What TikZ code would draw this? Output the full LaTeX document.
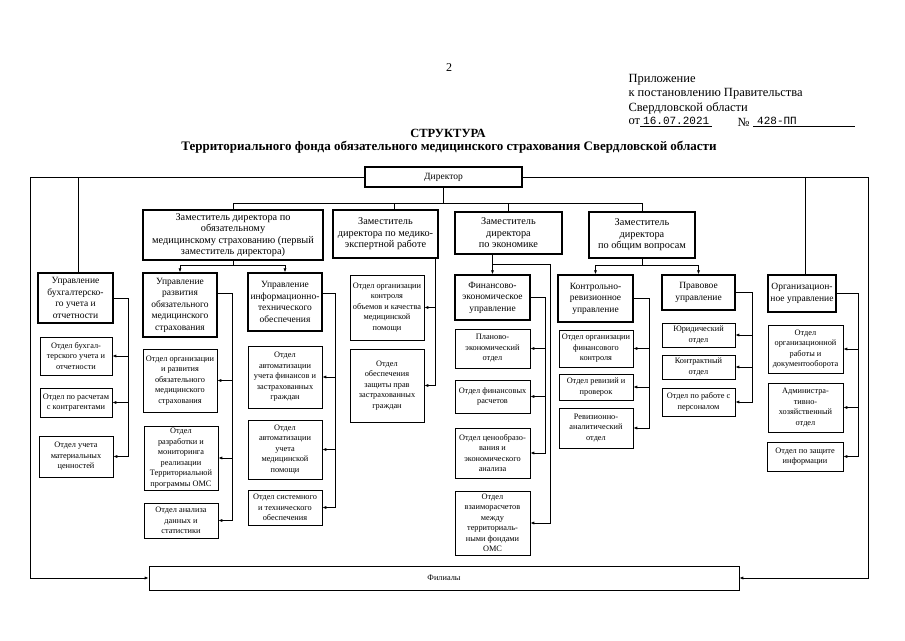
\documentclass[tikz,border=0pt]{standalone}
\usepackage{fontspec}
\setmainfont{Liberation Serif}
\newfontfamily\typefont{Liberation Mono}
\usetikzlibrary{arrows.meta,positioning,calc}

\begin{document}
\begin{tikzpicture}[x=1pt,y=-1pt,
    zam/.style={draw,rectangle,line width=1.4pt,inner sep=1pt,align=center,font=\fontsize{10.3}{11.5}\selectfont},
    upr/.style={draw,rectangle,line width=1.4pt,inner sep=1pt,align=center,font=\fontsize{9.5}{11.5}\selectfont},
    otd/.style={draw,rectangle,line width=0.7pt,inner sep=1pt,align=center,font=\fontsize{8.3}{10.5}\selectfont},
    ln/.style={line width=0.75pt},
    arr/.style={line width=0.75pt,-{Latex[length=4pt,width=3.2pt]}}]
    \useasboundingbox (0,0) rectangle (905,640);

    % header
    \node[font=\fontsize{12}{14}\selectfont] (page) at (449,68) {2};
    \node[anchor=west,font=\fontsize{12.5}{14}\selectfont] (pril1) at (625,80) {Приложение};
    \node[anchor=west,font=\fontsize{12.5}{14}\selectfont] (pril2) at (625,94) {к постановлению Правительства};
    \node[anchor=west,font=\fontsize{12.5}{14}\selectfont] (pril3) at (625,108) {Свердловской области};
    \node[anchor=west,font=\fontsize{12.5}{14}\selectfont] (ot) at (625,122) {от};
    \node[anchor=south west,inner sep=1pt,minimum width=72pt,font=\typefont\fontsize{11}{12}\selectfont] (date) at (640,126) {16.07.2021};
    \node[anchor=west,font=\fontsize{12.5}{14}\selectfont] (nomer) at (734,122) {№};
    \node[anchor=south west,inner sep=1pt,text width=100pt,align=left,font=\typefont\fontsize{11}{12}\selectfont] (num) at (753,126) {\hspace{3pt}428-ПП};
    \draw[line width=0.6pt] (date.south west) -- (date.south east);
    \draw[line width=0.6pt] (num.south west) -- (num.south east);

    \node[font=\bfseries\fontsize{12.5}{14}\selectfont] (title) at (448,133) {СТРУКТУРА};
    \node[font=\bfseries\fontsize{13}{15}\selectfont] (subtitle) at (449,147) {Территориального фонда обязательного медицинского страхования Свердловской области};

    % director and deputies
    \node[zam,minimum width=157pt,minimum height=20pt,font=\fontsize{9.5}{11}\selectfont] (dir) at (443.5,177) {Директор};
    \node[zam,minimum width=180pt,minimum height=50pt] (zam1) at (233,235) {Заместитель директора по\\обязательному\\медицинскому страхованию (первый\\заместитель директора)};
    \node[zam,minimum width=105pt,minimum height=48pt] (zam2) at (385.5,234) {Заместитель\\директора по медико-\\экспертной работе};
    \node[zam,minimum width=107pt,minimum height=42pt] (zam3) at (508.5,233) {Заместитель\\директора\\по экономике};
    \node[zam,minimum width=106pt,minimum height=46pt] (zam4) at (642,235) {Заместитель\\директора\\по общим вопросам};

    % first deputy
    \node[upr,minimum width=75pt,minimum height=50pt] (buh) at (75.5,298) {Управление\\бухгалтерско-\\го учета и\\отчетности};
    \node[otd,minimum width=72pt,minimum height=38pt] (buhA) at (76,356) {Отдел бухгал-\\терского учета и\\отчетности};
    \node[otd,minimum width=72pt,minimum height=29pt] (buhB) at (76,402.5) {Отдел по расчетам\\с контрагентами};
    \node[otd,minimum width=74pt,minimum height=41pt] (buhC) at (76,456.5) {Отдел учета\\материальных\\ценностей};

    \node[upr,minimum width=74pt,minimum height=64pt] (razv) at (180,305) {Управление\\развития\\обязательного\\медицинского\\страхования};
    \node[otd,minimum width=74pt,minimum height=63pt] (razvA) at (180,380.5) {Отдел организации\\и развития\\обязательного\\медицинского\\страхования};
    \node[otd,minimum width=74pt,minimum height=64pt] (razvB) at (181,458) {Отдел\\разработки и\\мониторинга\\реализации\\Территориальной\\программы ОМС};
    \node[otd,minimum width=74pt,minimum height=35pt] (razvC) at (181,520.5) {Отдел анализа\\данных и\\статистики};

    \node[upr,minimum width=74pt,minimum height=58pt] (it) at (285,302) {Управление\\информационно-\\технического\\обеспечения};
    \node[otd,minimum width=74pt,minimum height=62pt] (itA) at (285,377) {Отдел\\автоматизации\\учета финансов и\\застрахованных\\граждан};
    \node[otd,minimum width=74pt,minimum height=59pt] (itB) at (285,449.5) {Отдел\\автоматизации\\учета\\медицинской\\помощи};
    \node[otd,minimum width=74pt,minimum height=35pt] (itC) at (285,507.5) {Отдел системного\\и технического\\обеспечения};

    % medical expertise
    \node[otd,minimum width=74pt,minimum height=65pt] (mk1) at (387,307.5) {Отдел организации\\контроля\\объемов и качества\\медицинской\\помощи};
    \node[otd,minimum width=74pt,minimum height=73pt] (mk2) at (387,385.5) {Отдел\\обеспечения\\защиты прав\\застрахованных\\граждан};

    % economics
    \node[upr,minimum width=75pt,minimum height=45pt] (fin) at (492.5,297.5) {Финансово-\\экономическое\\управление};
    \node[otd,minimum width=75pt,minimum height=39pt] (finA) at (492.5,348.5) {Планово-\\экономический\\отдел};
    \node[otd,minimum width=75pt,minimum height=33pt] (finB) at (492.5,396.5) {Отдел финансовых\\расчетов};
    \node[otd,minimum width=75pt,minimum height=50pt] (finC) at (492.5,453) {Отдел ценообразо-\\вания и\\экономического\\анализа};
    \node[otd,minimum width=75pt,minimum height=64pt] (vz) at (492.5,523) {Отдел\\взаиморасчетов\\между\\территориаль-\\ными фондами\\ОМС};

    % general questions
    \node[upr,minimum width=75pt,minimum height=47pt] (kru) at (595.5,298.5) {Контрольно-\\ревизионное\\управление};
    \node[otd,minimum width=74pt,minimum height=37pt] (kruA) at (596,348.5) {Отдел организации\\финансового\\контроля};
    \node[otd,minimum width=74pt,minimum height=26pt] (kruB) at (596,387) {Отдел ревизий и\\проверок};
    \node[otd,minimum width=74pt,minimum height=40pt] (kruC) at (596,428) {Ревизионно-\\аналитический\\отдел};

    \node[upr,minimum width=73pt,minimum height=35pt] (prav) at (698.5,292.5) {Правовое\\управление};
    \node[otd,minimum width=73pt,minimum height=24pt] (pravA) at (698.5,335) {Юридический\\отдел};
    \node[otd,minimum width=73pt,minimum height=24pt] (pravB) at (698.5,367) {Контрактный\\отдел};
    \node[otd,minimum width=73pt,minimum height=28pt] (pravC) at (698.5,402) {Отдел по работе с\\персоналом};

    % director's own
    \node[upr,minimum width=68pt,minimum height=37pt] (org) at (802,293.5) {Организацион-\\ное управление};
    \node[otd,minimum width=75pt,minimum height=48pt] (orgA) at (805.5,349) {Отдел\\организационной\\работы и\\документооборота};
    \node[otd,minimum width=75pt,minimum height=49pt] (orgB) at (805.5,407.5) {Администра-\\тивно-\\хозяйственный\\отдел};
    \node[otd,minimum width=76pt,minimum height=29pt] (orgC) at (805,456.5) {Отдел по защите\\информации};

    \node[otd,minimum width=590pt,minimum height=24pt] (fil) at (444,578) {Филиалы};

    % frame lines
    \coordinate (lfr) at (30,0);
    \coordinate (rfr) at (868,0);
    \draw[arr] (dir.west) -| (lfr |- fil.west) -- (fil.west);
    \draw[arr] (dir.east) -| (rfr |- fil.east) -- (fil.east);
    \draw[ln] ([xshift=2.5pt]buh.north) -- ([xshift=2.5pt]buh.north |- dir.west);
    \draw[ln] ([xshift=3pt]org.north) -- ([xshift=3pt]org.north |- dir.east);

    % director to deputies
    \coordinate (bus) at (0,203);
    \draw[ln] (dir.south) -- (dir.south |- bus);
    \draw[ln] (zam1.north) |- (zam4.north |- bus) -- (zam4.north);
    \draw[ln] ([xshift=9pt]zam2.north) -- ([xshift=9pt]zam2.north |- bus);
    \draw[ln] (zam3.north) -- (zam3.north |- bus);

    % first deputy
    \coordinate (fork1) at (233,265);
    \draw[ln] (zam1.south) -- (fork1);
    \draw[arr] (fork1) -| (razv.north);
    \draw[arr] (fork1) -| (it.north);

    \coordinate (tbuh) at (128,0);
    \draw[arr] (buh.east) -| (tbuh |- buhC.east) -- (buhC.east);
    \draw[arr] (tbuh |- buhA.east) -- (buhA.east);
    \draw[arr] (tbuh |- buhB.east) -- (buhB.east);

    \coordinate (traz) at (232,0);
    \draw[arr] ([yshift=12pt]razv.east) -| (traz |- razvC.east) -- (razvC.east);
    \draw[arr] (traz |- razvA.east) -- (razvA.east);
    \draw[arr] (traz |- razvB.east) -- (razvB.east);

    \coordinate (tit) at (335,0);
    \draw[arr] ([yshift=9pt]it.east) -| (tit |- itC.east) -- (itC.east);
    \draw[arr] (tit |- itA.east) -- (itA.east);
    \draw[arr] (tit |- itB.east) -- (itB.east);

    % medical expertise
    \coordinate (tmk) at (435,0);
    \draw[arr] (tmk |- zam2.south) -- (tmk |- mk2.east) -- (mk2.east);
    \draw[arr] (tmk |- mk1.east) -- (mk1.east);

    % economics
    \draw[arr] (fin.north |- zam3.south) -- (fin.north);
    \coordinate (fork3) at (492.5,264);
    \coordinate (tvz) at (550,0);
    \draw[arr] (fork3) -| (tvz |- vz.east) -- (vz.east);
    \coordinate (tfin) at (545,0);
    \draw[arr] (fin.east) -| (tfin |- finC.east) -- (finC.east);
    \draw[arr] (tfin |- finA.east) -- (finA.east);
    \draw[arr] (tfin |- finB.east) -- (finB.east);

    % general questions
    \coordinate (fork4) at (642,265);
    \draw[ln] (zam4.south) -- (fork4);
    \draw[arr] (fork4) -| (kru.north);
    \draw[arr] (fork4) -| (prav.north);

    \coordinate (tkru) at (649,0);
    \draw[arr] (kru.east) -| (tkru |- kruC.east) -- (kruC.east);
    \draw[arr] (tkru |- kruA.east) -- (kruA.east);
    \draw[arr] (tkru |- kruB.east) -- (kruB.east);

    \coordinate (tprav) at (752,0);
    \draw[arr] (prav.east) -| (tprav |- pravC.east) -- (pravC.east);
    \draw[arr] (tprav |- pravA.east) -- (pravA.east);
    \draw[arr] (tprav |- pravB.east) -- (pravB.east);

    \coordinate (torg) at (858,0);
    \draw[arr] (org.east) -| (torg |- orgC.east) -- (orgC.east);
    \draw[arr] (torg |- orgA.east) -- (orgA.east);
    \draw[arr] (torg |- orgB.east) -- (orgB.east);
\end{tikzpicture}
\end{document}
